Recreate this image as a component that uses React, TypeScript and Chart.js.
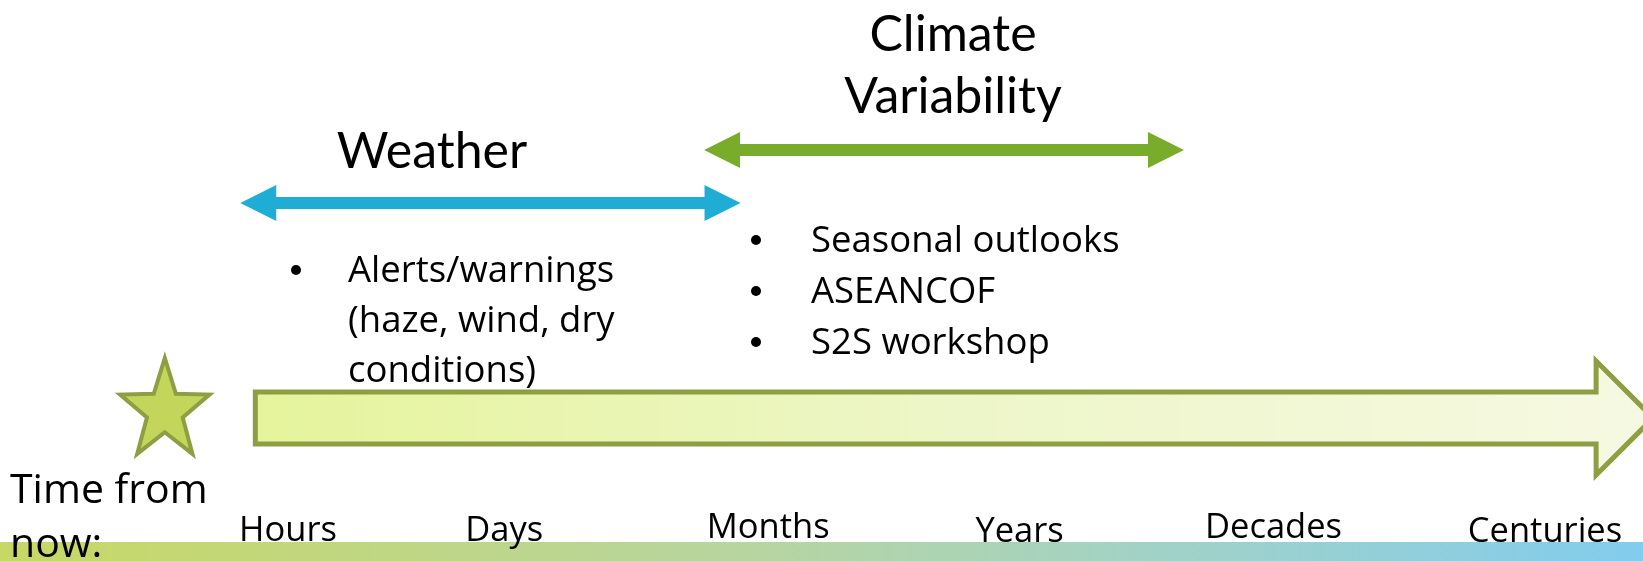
import React, { useEffect, useRef } from 'react';
import { Chart, registerables } from 'chart.js';

Chart.register(...registerables);

// ---------- data ----------
// Time-scale categories along the "time from now" axis (timeline units, irregular spacing as drawn)
const timeLabels = ['Hours', 'Days', 'Months', 'Years', 'Decades', 'Centuries'];
const timeValues = [0, 0.86, 1.91, 2.91, 3.92, 5.0];
// small vertical offsets of each label (slide units, as in the original text boxes)
const timeLabelBaselines = [541, 541, 538, 542, 538, 542];

// Ranges covered by each regime (timeline units)
const weatherRange = [-0.19, 1.8];
const climateRange = [1.655, 3.564];
const timelineRange = [-0.13, 5.43];
const nowValue = -0.49;

const weatherTitle = ['Weather'];
const climateTitle = ['Climate', 'Variability'];
const weatherBullets = [['Alerts/warnings', '(haze, wind, dry', 'conditions)']];
const climateBullets = [['Seasonal outlooks'], ['ASEANCOF'], ['S2S workshop']];
const axisTitle = ['Time from', 'now:'];

// ---------- layout / style ----------
const W = 1643;
const H = 561;
const X_MIN = -1.1456;
const X_MAX = 5.3898;
const TITLE_FONT = 'Lato, "Open Sans", sans-serif';
const BODY_FONT = '"Open Sans", Lato, sans-serif';

const LAYOUT = {
  climateRow: 150,
  weatherRow: 203,
  timelineRow: 418,
  band: { top: 542, bottom: 561 },
  star: { rx: 47, ry: 53, inner: 0.4, dy: -7 },
  dbl: { shaft: 12, headLen: 36, headHalf: 18 },
  block: { shaftHalf: 26, headHalf: 57, stroke: 5 },
  climateTitle: { x: 953, baselines: [51, 113], size: 50 },
  weatherTitle: { x: 432, baselines: [168], size: 50 },
  weatherList: { bulletX: 296, textX: 348, first: 282, step: 50, size: 36.5 },
  climateList: { bulletX: 756, textX: 811, first: 252, step: 51, size: 36.5 },
  labelSize: 34.5,
  axisTitle: { x: 10, baselines: [503, 557], size: 41 },
};

const COLORS = {
  blue: '#1FADD6',
  green: '#79AC2B',
  olive: '#8E9E42',
  starFill: '#C4D55C',
  text: '#000000',
};

function drawDoubleArrow(ctx: CanvasRenderingContext2D, x0: number, x1: number, yc: number, color: string) {
  const { shaft, headLen, headHalf } = LAYOUT.dbl;
  const s = shaft / 2;
  ctx.fillStyle = color;
  ctx.beginPath();
  ctx.moveTo(x0, yc);
  ctx.lineTo(x0 + headLen, yc - headHalf);
  ctx.lineTo(x0 + headLen, yc - s);
  ctx.lineTo(x1 - headLen, yc - s);
  ctx.lineTo(x1 - headLen, yc - headHalf);
  ctx.lineTo(x1, yc);
  ctx.lineTo(x1 - headLen, yc + headHalf);
  ctx.lineTo(x1 - headLen, yc + s);
  ctx.lineTo(x0 + headLen, yc + s);
  ctx.lineTo(x0 + headLen, yc + headHalf);
  ctx.closePath();
  ctx.fill();
}

function drawText(ctx: CanvasRenderingContext2D, s: string, x: number, y: number, size: number, align: CanvasTextAlign, font: string) {
  ctx.font = `${size}px ${font}`;
  ctx.textAlign = align;
  ctx.textBaseline = 'alphabetic';
  ctx.fillStyle = COLORS.text;
  ctx.fillText(s, x, y);
}

const diagramPlugin = {
  id: 'diagram',
  beforeDatasetsDraw(chart: any) {
    const ctx: CanvasRenderingContext2D = chart.ctx;
    const x = chart.scales.x;
    const px = chart.scales.px;
    const y = chart.scales.y;
    ctx.save();

    // bottom colour band
    const bt = y.getPixelForValue(LAYOUT.band.top);
    const bb = y.getPixelForValue(LAYOUT.band.bottom);
    const g = ctx.createLinearGradient(px.getPixelForValue(0), 0, px.getPixelForValue(W), 0);
    g.addColorStop(0, '#C8D865');
    g.addColorStop(0.45, '#B7D59F');
    g.addColorStop(0.7, '#A2D2C6');
    g.addColorStop(1, '#82CCEE');
    ctx.fillStyle = g;
    ctx.fillRect(px.getPixelForValue(0), bt, px.getPixelForValue(W) - px.getPixelForValue(0), bb - bt);

    // big timeline block arrow
    const ax0 = x.getPixelForValue(timelineRange[0]);
    const tip = x.getPixelForValue(timelineRange[1]);
    const yc = y.getPixelForValue(LAYOUT.timelineRow);
    const { shaftHalf, headHalf, stroke } = LAYOUT.block;
    const hb = tip - headHalf;
    const ag = ctx.createLinearGradient(ax0, 0, tip, 0);
    ag.addColorStop(0, '#E5F49C');
    ag.addColorStop(0.5, '#EDF6C8');
    ag.addColorStop(1, '#F6F9E2');
    ctx.beginPath();
    ctx.moveTo(ax0, yc - shaftHalf);
    ctx.lineTo(hb, yc - shaftHalf);
    ctx.lineTo(hb, yc - headHalf);
    ctx.lineTo(tip, yc);
    ctx.lineTo(hb, yc + headHalf);
    ctx.lineTo(hb, yc + shaftHalf);
    ctx.lineTo(ax0, yc + shaftHalf);
    ctx.closePath();
    ctx.fillStyle = ag;
    ctx.fill();
    ctx.lineWidth = stroke;
    ctx.lineJoin = 'miter';
    ctx.strokeStyle = COLORS.olive;
    ctx.stroke();

    // "now" star
    const sx = x.getPixelForValue(nowValue);
    const { rx, ry, inner, dy } = LAYOUT.star;
    const sy = yc + dy;
    ctx.beginPath();
    for (let i = 0; i < 10; i++) {
      const a = -Math.PI / 2 + (i * Math.PI) / 5;
      const f = i % 2 === 0 ? 1 : inner;
      const pxp = sx + Math.cos(a) * rx * f;
      const pyp = sy + Math.sin(a) * ry * f;
      if (i === 0) ctx.moveTo(pxp, pyp);
      else ctx.lineTo(pxp, pyp);
    }
    ctx.closePath();
    ctx.fillStyle = COLORS.starFill;
    ctx.fill();
    ctx.lineWidth = 4;
    ctx.strokeStyle = COLORS.olive;
    ctx.stroke();

    // regime arrows
    drawDoubleArrow(ctx, x.getPixelForValue(weatherRange[0]), x.getPixelForValue(weatherRange[1]), y.getPixelForValue(LAYOUT.weatherRow), COLORS.blue);
    drawDoubleArrow(ctx, x.getPixelForValue(climateRange[0]), x.getPixelForValue(climateRange[1]), y.getPixelForValue(LAYOUT.climateRow), COLORS.green);

    ctx.restore();
  },
  afterDatasetsDraw(chart: any) {
    const ctx: CanvasRenderingContext2D = chart.ctx;
    const x = chart.scales.x;
    const px = chart.scales.px;
    const y = chart.scales.y;
    ctx.save();

    // titles
    climateTitle.forEach((s, i) =>
      drawText(ctx, s, px.getPixelForValue(LAYOUT.climateTitle.x), y.getPixelForValue(LAYOUT.climateTitle.baselines[i]), LAYOUT.climateTitle.size, 'center', TITLE_FONT));
    weatherTitle.forEach((s, i) =>
      drawText(ctx, s, px.getPixelForValue(LAYOUT.weatherTitle.x), y.getPixelForValue(LAYOUT.weatherTitle.baselines[i]), LAYOUT.weatherTitle.size, 'center', TITLE_FONT));

    // bullet lists
    const lists = [
      { items: weatherBullets, L: LAYOUT.weatherList },
      { items: climateBullets, L: LAYOUT.climateList },
    ];
    lists.forEach(({ items, L }) => {
      let line = 0;
      items.forEach((lines) => {
        const base = y.getPixelForValue(L.first + line * L.step);
        ctx.beginPath();
        ctx.fillStyle = COLORS.text;
        ctx.arc(px.getPixelForValue(L.bulletX), base - 12, 5, 0, Math.PI * 2);
        ctx.fill();
        lines.forEach((s) => {
          drawText(ctx, s, px.getPixelForValue(L.textX), y.getPixelForValue(L.first + line * L.step), L.size, 'left', BODY_FONT);
          line++;
        });
      });
    });

    // time-scale labels
    timeLabels.forEach((s, i) =>
      drawText(ctx, s, x.getPixelForValue(timeValues[i]), y.getPixelForValue(timeLabelBaselines[i]), LAYOUT.labelSize, 'center', BODY_FONT));

    // axis title
    axisTitle.forEach((s, i) =>
      drawText(ctx, s, px.getPixelForValue(LAYOUT.axisTitle.x), y.getPixelForValue(LAYOUT.axisTitle.baselines[i]), LAYOUT.axisTitle.size, 'left', BODY_FONT));

    ctx.restore();
  },
};

export default function App() {
  const ref = useRef<HTMLCanvasElement>(null);
  useEffect(() => {
    document.body.style.margin = '0';
    const chart = new Chart(ref.current as HTMLCanvasElement, {
      type: 'scatter',
      data: { datasets: [] },
      options: {
        animation: false,
        responsive: false,
        events: [],
        layout: { padding: 0 },
        plugins: { legend: { display: false }, tooltip: { enabled: false } },
        scales: {
          x: { type: 'linear', min: X_MIN, max: X_MAX, display: false },
          px: { type: 'linear', axis: 'x', min: 0, max: W, display: false },
          y: { type: 'linear', min: 0, max: H, reverse: true, display: false },
        },
      } as any,
      plugins: [diagramPlugin],
    });
    return () => chart.destroy();
  }, []);
  return (
    <div style={{ width: W, height: H, overflow: 'hidden' }}>
      <canvas ref={ref} width={W} height={H} style={{ display: 'block' }} />
    </div>
  );
}
